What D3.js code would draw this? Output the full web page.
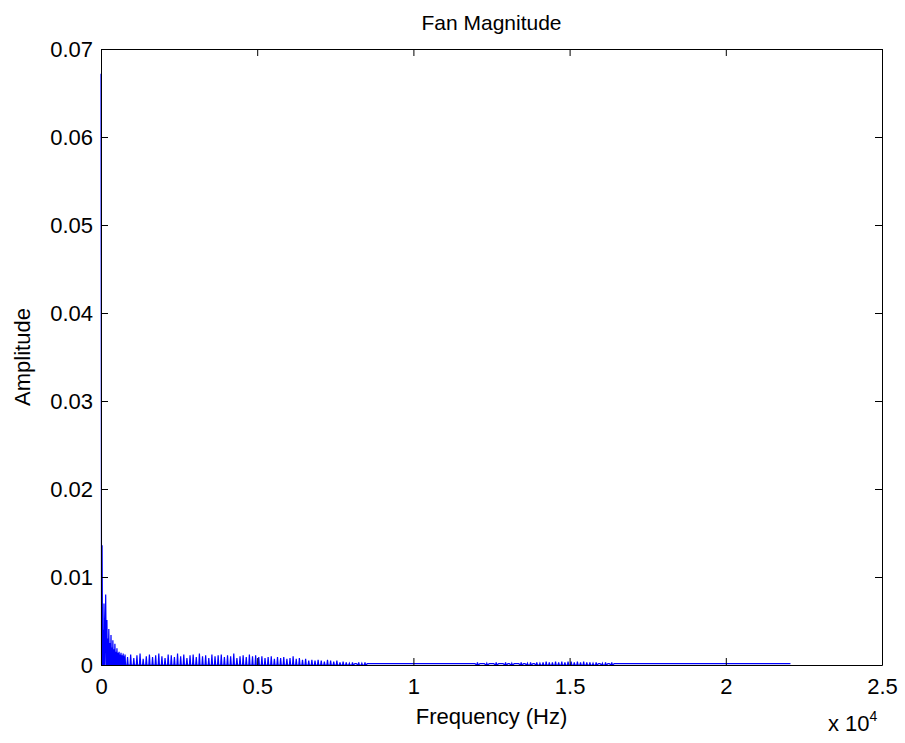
<!DOCTYPE html>
<html>
<head>
<meta charset="utf-8">
<script src="https://cdn.jsdelivr.net/npm/d3@7"></script>
<style>
  body { margin: 0; background: #fff; }
  svg { font-family: 'Liberation Sans', Arial, sans-serif; }
</style>
</head>
<body>
<script>
(function () {
  'use strict'

  // Low frequency fan harmonics (Hz, amplitude)
  var harmonicFreq = [0, 35, 70, 95, 150, 190, 215, 250, 290, 320, 350, 380, 410, 445, 480, 510, 545, 580, 610, 640, 680, 710, 740, 770]
  var harmonicAmp = [0.0672, 0.0136, 0.0040, 0.0070, 0.0080, 0.0051, 0.0030, 0.0041, 0.0025, 0.0034, 0.0020, 0.0028, 0.0018, 0.0024, 0.0015, 0.0019, 0.0014, 0.0015, 0.0012, 0.0014, 0.0011, 0.0013, 0.0010, 0.0012]

  // Broadband peaks in 100 Hz bands from 800 Hz, units of 1e-4
  var bandStart = 800
  var bandStep = 100
  var bandPeak = [
    9, 12, 8, 11, 13, 7, 10, 12, 9, 11,
    13, 10, 8, 12, 11, 9, 13, 10, 12, 8,
    11, 12, 9, 13, 10, 11, 8, 12, 10, 11,
    12, 9, 11, 10, 13, 8, 10, 11, 9, 12,
    10, 11, 9, 10, 8, 9, 10, 7, 9, 8,
    9, 7, 8, 10, 7, 8, 6, 7, 5, 6,
    5, 6, 5, 4, 6, 5, 4, 5, 3, 4,
    3, 2, 3, 1, 3, 2, 3, 1, 1, 1,
    1, 1, 1, 1, 1, 1, 1, 1, 1, 1,
    1, 1, 1, 1, 1, 1, 1, 1, 1, 1,
    1, 1, 1, 1, 1, 1, 1, 1, 1, 1,
    1, 1, 3, 1, 1, 2, 1, 1, 3, 1,
    1, 3, 1, 2, 1, 1, 3, 1, 2, 3,
    1, 3, 2, 3, 4, 3, 3, 4, 3, 4,
    3, 4, 4, 3, 4, 3, 4, 3, 3, 2,
    3, 1, 2, 3, 1, 3, 1, 1, 1, 1,
    1, 1, 1, 1, 1, 1, 1, 1, 1, 1,
    1, 1, 1, 1, 1, 1, 1, 1, 1, 1,
    1, 1, 1, 1, 1, 1, 1, 1, 1, 1,
    1, 1, 1, 1, 1, 1, 1, 1, 1, 1,
    1, 1, 1, 1, 1, 1, 1, 1, 1, 1,
    1, 1, 1
  ]
  var floorAmp = 0.00015
  var nyquist = 22050

  // Axis ticks
  var xTicks = [0, 5000, 10000, 15000, 20000, 25000]
  var xTickLabels = ['0', '0.5', '1', '1.5', '2', '2.5']
  var yTicks = [0, 0.01, 0.02, 0.03, 0.04, 0.05, 0.06, 0.07]
  var yTickLabels = ['0', '0.01', '0.02', '0.03', '0.04', '0.05', '0.06', '0.07']

  var w = 905
  var h = 743
  var left = 101
  var right = 882
  var top = 49
  var bottom = 665
  var tickLen = 7
  var fontSize = 22

  var x = d3.scaleLinear().domain([0, 25000]).range([left, right])
  var y = d3.scaleLinear().domain([0, 0.07]).range([bottom, top])

  // Build spectrum points: narrow spikes that drop back to the trough
  var points = []
  harmonicFreq.forEach(function (f, i) {
    points.push([f, harmonicAmp[i]])
    var next = i < harmonicFreq.length - 1 ? harmonicFreq[i + 1] : bandStart
    points.push([f + (next - f) * 0.5, 0])
  })
  bandPeak.forEach(function (p, i) {
    var f = bandStart + i * bandStep
    var trough = p > 1 ? 0 : floorAmp
    points.push([f + bandStep * 0.3, trough])
    points.push([f + bandStep * 0.5, Math.max(p * 1e-4, floorAmp)])
    points.push([f + bandStep * 0.7, trough])
  })
  points.push([nyquist, floorAmp])

  var svg = d3.select('body').append('svg')
    .attr('width', w)
    .attr('height', h)

  svg.append('rect')
    .attr('width', w)
    .attr('height', h)
    .attr('fill', '#fff')

  // Spectrum line
  var line = d3.line()
    .x(function (d) { return x(d[0]) })
    .y(function (d) { return y(d[1]) })

  svg.append('path')
    .datum(points)
    .attr('d', line)
    .attr('fill', 'none')
    .attr('stroke', '#0000ff')
    .attr('stroke-width', 1.2)

  function styleAxis (g) {
    g.selectAll('path').attr('stroke', '#000').attr('stroke-width', 1)
    g.selectAll('line').attr('stroke', '#000').attr('stroke-width', 1)
    g.selectAll('text').attr('fill', '#000').style('font-size', fontSize + 'px')
  }

  // Bottom axis
  svg.append('g')
    .attr('transform', 'translate(0,' + bottom + ')')
    .call(d3.axisBottom(x)
      .tickValues(xTicks)
      .tickFormat(function (d, i) { return xTickLabels[i] })
      .tickSizeInner(-tickLen)
      .tickSizeOuter(0)
      .tickPadding(13))
    .call(styleAxis)

  // Top axis (ticks only)
  svg.append('g')
    .attr('transform', 'translate(0,' + top + ')')
    .call(d3.axisTop(x)
      .tickValues(xTicks)
      .tickFormat('')
      .tickSizeInner(-tickLen)
      .tickSizeOuter(0))
    .call(styleAxis)

  // Left axis
  svg.append('g')
    .attr('transform', 'translate(' + left + ',0)')
    .call(d3.axisLeft(y)
      .tickValues(yTicks)
      .tickFormat(function (d, i) { return yTickLabels[i] })
      .tickSizeInner(-tickLen)
      .tickSizeOuter(0)
      .tickPadding(8))
    .call(styleAxis)

  // Right axis (ticks only)
  svg.append('g')
    .attr('transform', 'translate(' + right + ',0)')
    .call(d3.axisRight(y)
      .tickValues(yTicks)
      .tickFormat('')
      .tickSizeInner(-tickLen)
      .tickSizeOuter(0))
    .call(styleAxis)

  // Title and labels
  svg.append('text')
    .attr('x', (left + right) / 2)
    .attr('y', 30)
    .attr('text-anchor', 'middle')
    .style('font-size', '21px')
    .text('Fan Magnitude')

  svg.append('text')
    .attr('x', (left + right) / 2)
    .attr('y', 724)
    .attr('text-anchor', 'middle')
    .style('font-size', fontSize + 'px')
    .text('Frequency (Hz)')

  svg.append('text')
    .attr('transform', 'translate(30,' + (top + bottom) / 2 + ') rotate(-90)')
    .attr('text-anchor', 'middle')
    .style('font-size', fontSize + 'px')
    .text('Amplitude')

  var expo = svg.append('text')
    .attr('x', 828)
    .attr('y', 731)
    .style('font-size', fontSize + 'px')
  expo.append('tspan').text('x 10')
  expo.append('tspan')
    .attr('dy', -10)
    .style('font-size', '14px')
    .text('4')
}())
</script>
</body>
</html>
